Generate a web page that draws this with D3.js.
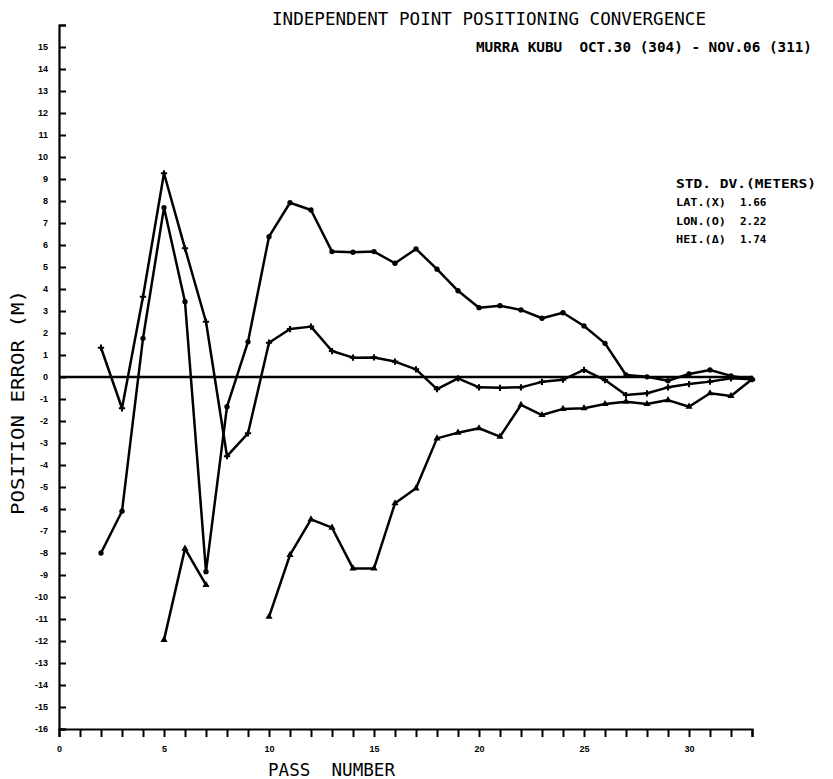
<!DOCTYPE html>
<html>
<head>
<meta charset="utf-8">
<script src="https://cdn.jsdelivr.net/npm/d3@7"></script>
<style>
  body { margin: 0; background: #fff; }
  text { fill: #000; }
</style>
</head>
<body>
<div id="chart"></div>
<script>
var width = 833;
var height = 779;

// pass numbers and errors (m), null = no solution
var passes = d3.range(2, 34);
var lonErr = [-8.0, -6.1, 1.76, 7.7, 3.42, -8.85, -1.35, 1.6, 6.38, 7.92, 7.59, 5.7, 5.67, 5.7, 5.17, 5.82,
              4.9, 3.92, 3.15, 3.24, 3.05, 2.67, 2.92, 2.32, 1.53, 0.09, 0.01, -0.17, 0.14, 0.32, 0.05, -0.1];
var latErr = [1.33, -1.42, 3.65, 9.26, 5.85, 2.51, -3.6, -2.56, 1.56, 2.18, 2.29, 1.18, 0.88, 0.89, 0.7, 0.35,
              -0.55, -0.06, -0.47, -0.49, -0.47, -0.22, -0.12, 0.32, -0.14, -0.82, -0.74, -0.47, -0.32, -0.21, -0.06, -0.1];
var heiErr = [null, null, null, -11.95, -7.8, -9.45, null, null, -10.9, -8.09, -6.47, -6.85, -8.7, -8.7, -5.74, -5.06,
              -2.79, -2.53, -2.33, -2.71, -1.27, -1.73, -1.45, -1.42, -1.23, -1.12, -1.23, -1.05, -1.35, -0.74, -0.86, -0.1];

var legendRows = ["LAT.(X)", "LON.(O)", "HEI.(\u0394)"];
var legendVals = ["1.66", "2.22", "1.74"];

var xTicks = d3.range(0, 34);
var yTicks = d3.range(-16, 17);

const x = d3.scaleLinear().domain([0, 33]).range([59, 752]);
const y = d3.scaleLinear().domain([-16, 16]).range([729, 25]);

const svg = d3.select("#chart")
    .append("svg")
    .attr("width", width)
    .attr("height", height);

var font = "'DejaVu Sans Mono', monospace";

// axes
var yAxis = d3.axisLeft(y)
    .tickValues(yTicks)
    .tickSizeInner(-7)
    .tickSizeOuter(-7)
    .tickPadding(11)
    .tickFormat(function(d){ return d == 16 ? "" : d; });

var gy = svg.append("g")
    .attr("transform", "translate(" + x(0) + ",0)")
    .call(yAxis);

var xAxis = d3.axisBottom(x)
    .tickValues(xTicks)
    .tickSizeInner(8)
    .tickSizeOuter(8)
    .tickPadding(9)
    .tickFormat(function(d){ return d % 5 == 0 ? d : ""; });

var gx = svg.append("g")
    .attr("transform", "translate(0," + y(-16) + ")")
    .call(xAxis);

svg.selectAll(".domain").attr("stroke-width", 2.2);
svg.selectAll(".tick line").attr("stroke-width", 2);
svg.selectAll(".tick text")
    .attr("font-family", "'Liberation Sans', sans-serif")
    .attr("font-weight", "bold")
    .attr("font-size", 9);

// zero line
svg.append("line")
    .attr("x1", x(0)).attr("x2", x(33))
    .attr("y1", y(0)).attr("y2", y(0))
    .attr("stroke", "#000")
    .attr("stroke-width", 2.5);

// series
var series = [
    { name: "lon", values: lonErr, sym: d3.symbolCircle },
    { name: "lat", values: latErr, sym: d3.symbolCross },
    { name: "hei", values: heiErr, sym: d3.symbolTriangle }
];

var line = d3.line()
    .defined(function(d){ return d.v !== null; })
    .x(function(d){ return x(d.p); })
    .y(function(d){ return y(d.v); });

series.forEach(function(s) {
    var pts = passes.map(function(p, i){ return { p: p, v: s.values[i] }; });
    svg.append("path")
        .datum(pts)
        .attr("fill", "none")
        .attr("stroke", "#000")
        .attr("stroke-width", 2.5)
        .attr("stroke-linejoin", "round")
        .attr("d", line);
    svg.selectAll(null)
        .data(pts.filter(function(d){ return d.v !== null; }))
        .enter().append("path")
        .attr("transform", function(d){ return "translate(" + x(d.p) + "," + y(d.v) + ")"; })
        .attr("d", d3.symbol().type(s.sym).size(22))
        .attr("fill", "#000");
});

// titles
svg.append("text")
    .attr("x", 272).attr("y", 25)
    .attr("font-family", font).attr("font-size", 18)
    .attr("textLength", 434).attr("lengthAdjust", "spacingAndGlyphs")
    .text("INDEPENDENT POINT POSITIONING CONVERGENCE");

svg.append("text")
    .attr("x", 476).attr("y", 52)
    .attr("font-family", font).attr("font-size", 14)
    .attr("textLength", 336).attr("lengthAdjust", "spacingAndGlyphs")
    .attr("font-weight", "bold")
    .attr("xml:space", "preserve")
    .text("MURRA KUBU  OCT.30 (304) - NOV.06 (311)");

// legend
svg.append("text")
    .attr("x", 676).attr("y", 188)
    .attr("font-family", font).attr("font-size", 13).attr("font-weight", "bold")
    .attr("textLength", 140).attr("lengthAdjust", "spacingAndGlyphs")
    .text("STD. DV.(METERS)");

legendRows.forEach(function(r, i) {
    svg.append("text")
        .attr("x", 676).attr("y", 206 + i * 18.5)
        .attr("font-family", font).attr("font-size", 11).attr("font-weight", "bold")
        .attr("textLength", 50).attr("lengthAdjust", "spacingAndGlyphs")
        .text(r);
    svg.append("text")
        .attr("x", 740).attr("y", 206 + i * 18.5)
        .attr("font-family", font).attr("font-size", 11).attr("font-weight", "bold")
        .text(legendVals[i]);
});

// axis labels
svg.append("text")
    .attr("transform", "translate(24,515) rotate(-90)")
    .attr("font-family", font).attr("font-size", 18)
    .attr("textLength", 225).attr("lengthAdjust", "spacingAndGlyphs")
    .text("POSITION ERROR (M)");

svg.append("text")
    .attr("x", 268).attr("y", 776)
    .attr("font-family", font).attr("font-size", 18)
    .attr("textLength", 127).attr("lengthAdjust", "spacingAndGlyphs")
    .attr("xml:space", "preserve")
    .text("PASS  NUMBER");
</script>
</body>
</html>
